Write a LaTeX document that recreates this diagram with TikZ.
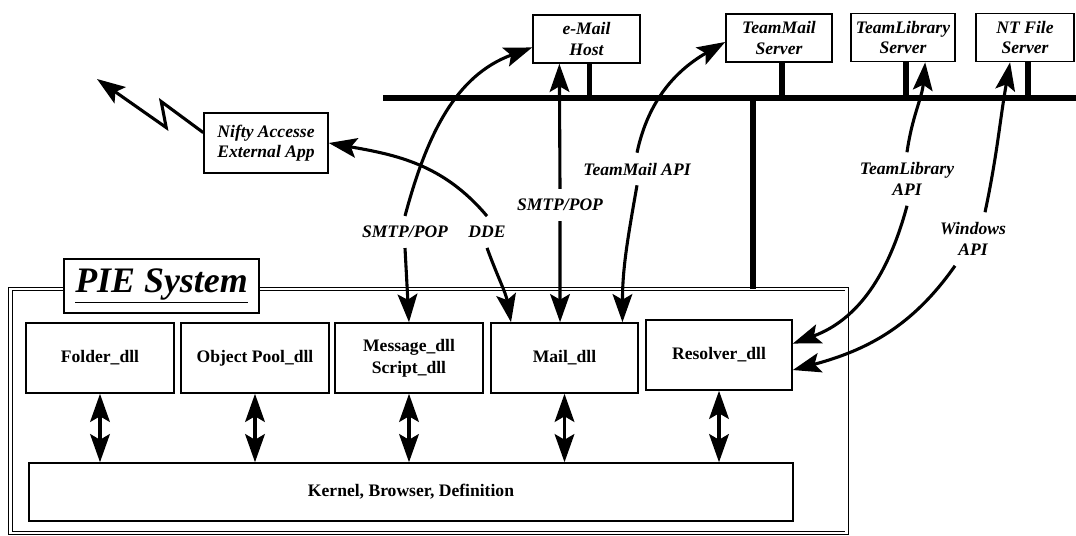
\documentclass[tikz,border=0pt]{standalone}
\usepackage{fontspec}
\setmainfont{Liberation Serif}
\usetikzlibrary{arrows.meta,calc}

\tikzset{
  modbox/.style={draw, line width=1.1pt, fill=white, align=center, inner sep=2pt,
    font=\fontsize{12.5}{15.5}\selectfont\bfseries},
  srvbox/.style={draw, line width=1.1pt, fill=white, align=center, inner sep=2pt,
    minimum height=1.2cm, font=\fontsize{12.5}{14.5}\selectfont\bfseries\itshape},
  apilbl/.style={align=center, inner xsep=1pt, inner ysep=7pt,
    font=\fontsize{12.5}{15}\selectfont\bfseries\itshape},
  bigtip/.tip={Stealth[length=20pt,width=14pt,inset=4pt]},
  conn/.style={line width=2.2pt, -bigtip},
  both/.style={line width=2.2pt, bigtip-bigtip},
  bus/.style={line width=4pt},
}

\begin{document}
\begin{tikzpicture}[x=0.025cm, y=-0.025cm]
		\useasboundingbox (0,0) rectangle (1076,535);

		% PIE system frame
		\node (pie) [draw, double, line width=0.7pt, double distance=1.6pt,
			minimum width=20.9cm, minimum height=6.1cm] at (428.5,411) {};
		\node (pietitle) [draw, fill=white, line width=1.1pt, minimum width=4.875cm,
			minimum height=1.35cm, font=\fontsize{25.5}{28}\selectfont\bfseries\itshape]
			at (161.5,286) {\underline{PIE System}};

		% dll modules
		\node (folder) [modbox, minimum width=3.7cm, minimum height=1.75cm] at (100,358) {Folder\_dll};
		\node (pool) [modbox, minimum width=3.7cm, minimum height=1.75cm] at (255,358) {Object Pool\_dll};
		\node (msg) [modbox, minimum width=3.7cm, minimum height=1.75cm] at (409,358) {Message\_dll\\Script\_dll};
		\node (mail) [modbox, minimum width=3.675cm, minimum height=1.75cm] at (564.5,358) {Mail\_dll};
		\node (resolver) [modbox, minimum width=3.65cm, minimum height=1.75cm] at (719,355) {Resolver\_dll};
		\node (kernel) [modbox, minimum width=19.1cm, minimum height=1.45cm] at (411,492) {Kernel, Browser, Definition};

		\foreach \m in {folder,pool,msg,mail,resolver}
			\draw[both] (\m.south) -- (\m.south |- kernel.north);

		% servers on the net
		\node (ehost) [srvbox, minimum width=2.675cm] at (586.5,39) {e-Mail\\Host};
		\node (tmsrv) [srvbox, minimum width=2.65cm] at (779,38) {TeamMail\\Server};
		\node (tlsrv) [srvbox, minimum width=2.6cm] at (903,37.5) {TeamLibrary\\Server};
		\node (ntsrv) [srvbox, minimum width=2.45cm] at (1025,37.5) {NT File\\Server};
		\node (nifty) [srvbox, minimum width=3.1cm, minimum height=1.5cm] at (266,143) {Nifty Accesse\\External App};

		\coordinate (busw) at (383,98);
		\coordinate (buse) at (1076,98);
		\coordinate (drop) at (753,289);
		\draw[bus] (busw) -- (buse);
		\foreach \s in {ehost,tmsrv,tlsrv,ntsrv}
			\draw[bus] ($(\s.south)+(3,0)$) -- ($(\s.south |- busw)+(3,0)$);
		\draw[bus] (drop |- busw) -- (drop);

		% interface labels
		\node (smtpa) [apilbl] at (405,232) {SMTP/POP};
		\node (dde) [apilbl] at (487,232) {DDE};
		\node (smtpb) [apilbl] at (560,205) {SMTP/POP};
		\node (tmapi) [apilbl] at (637,169) {TeamMail API};
		\node (tlapi) [apilbl] at (907,179) {TeamLibrary\\API};
		\node (winapi) [apilbl] at (973,239) {Windows\\API};

		% connections
		\draw[conn] (smtpa.north) to[out=75,in=-160] ($(ehost.north west)!0.67!(ehost.south west)$);
		\draw[conn] (smtpa.south) -- (msg.north);
		\draw[conn] (dde.north) to[out=130,in=-10] (nifty.east);
		\draw[conn] (dde.south) to[out=-70,in=100] ($(mail.north west)!0.14!(mail.north east)$);
		\draw[conn] (smtpb.north) -- ($(ehost.south west)!0.25!(ehost.south east)$);
		\draw[conn] (smtpb.south) -- ($(mail.north west)!0.47!(mail.north east)$);
		\draw[conn] (tmapi.north) to[out=78,in=-150] ($(tmsrv.north west)!0.58!(tmsrv.south west)$);
		\draw[conn] (tmapi.south) to[out=-100,in=90] ($(mail.north west)!0.89!(mail.north east)$);
		\draw[conn] (tlapi.north) to[out=82,in=-95] ($(tlsrv.south west)!0.71!(tlsrv.south east)$);
		\draw[conn] (tlapi.south) to[out=-105,in=20] ($(resolver.north east)!0.34!(resolver.south east)$);
		\draw[conn] ([xshift=0.3cm]winapi.north) to[out=78,in=-100] ($(ntsrv.south west)!0.35!(ntsrv.south east)$);
		\draw[conn] ([xshift=-0.45cm]winapi.south) to[out=-125,in=15] ($(resolver.north east)!0.71!(resolver.south east)$);

		% link out of the external app
		\coordinate (web) at (97,79);
		\draw[conn, line join=miter] ($(nifty.north west)!0.33!(nifty.south west)$) -- ++(-42,-31) -- ++(5,26) -- (web);
	\end{tikzpicture}
\end{document}
